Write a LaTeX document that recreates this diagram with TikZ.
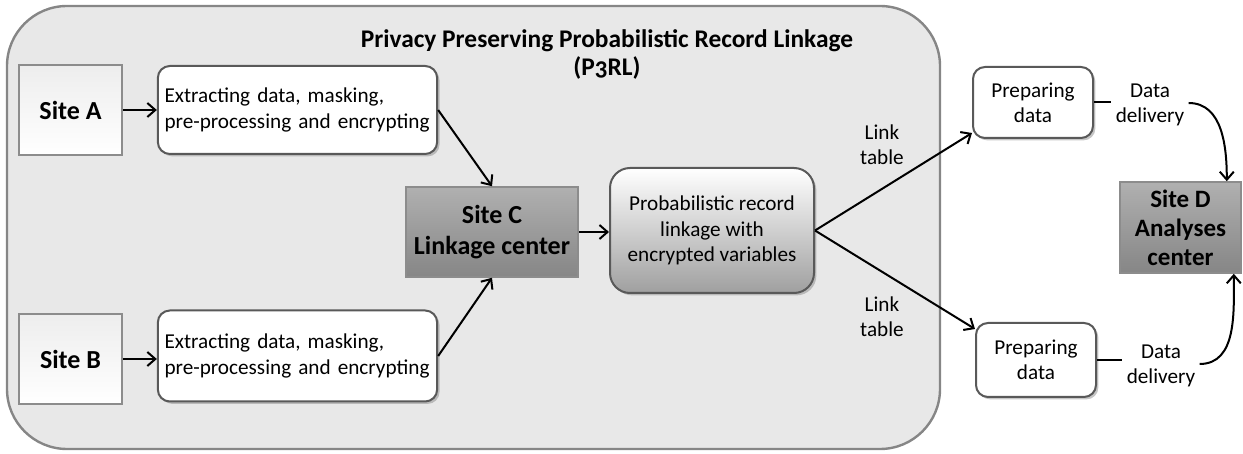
\documentclass[tikz,border=0pt]{standalone}
\usepackage{fontspec}
\setmainfont{Carlito}
\usetikzlibrary{calc,shadows,arrows.meta}

\begin{document}
\begin{tikzpicture}[x=0.5pt,y=-0.5pt,
    site/.style={draw=gray!90,line width=1.3pt,top color=gray!14,bottom color=white,
        minimum width=51.5pt,minimum height=45pt,font=\fontsize{13}{15.5}\selectfont\bfseries},
    hub/.style={draw=gray!90,line width=0.8pt,top color=gray!62,bottom color=gray!95,
        align=center,font=\fontsize{13}{15.5}\selectfont\bfseries},
    task/.style={draw=black!65,line width=1pt,rounded corners=6pt,fill=white,
        drop shadow={opacity=0.45,shadow xshift=1.2pt,shadow yshift=-1.2pt},
        font=\fontsize{10.6}{12.6}\selectfont},
    lbl/.style={align=center,inner sep=2pt,font=\fontsize{10.6}{12.6}\selectfont},
    arr/.style={-{Straight Barb[length=4pt,width=7pt]},line width=1pt}]

    \useasboundingbox (0,0) rectangle (1243,454);

    %%% P3RL frame %%%

    \draw[draw=gray!95,line width=1.2pt,fill=gray!18,rounded corners=30pt]
        (7,6) rectangle (940,449);
    \node[align=center,font=\fontsize{12.7}{14}\selectfont\bfseries] (t) at (607,54)
        {Privacy Preserving Probabilistic Record Linkage\\
         (P{\addfontfeatures{Numbers=OldStyle}3}RL)};

    %%% Sites A and B %%%

    \node[site] (sa) at (70.5,110) {Site A};
    \node[task,text width=133pt,align=left,minimum width=139.5pt,minimum height=44pt]
        (ea) at (297.5,110)
        {Extracting data, masking,\\pre-processing and encrypting};

    \node[site] (sb) at (70.5,359) {Site B};
    \node[task,text width=133pt,align=left,minimum width=139.5pt,minimum height=45.5pt]
        (eb) at (297.5,356)
        {Extracting data, masking,\\pre-processing and encrypting};

    %%% Linkage %%%

    \node[hub,minimum width=86pt,minimum height=45pt] (sc) at (492,232)
        {Site C\\Linkage center};
    \node[task,rounded corners=10pt,top color=white,bottom color=gray!75,align=center,
        minimum width=102pt,minimum height=62.5pt] (pl) at (712,230.5)
        {Probabilistic record\\linkage with\\encrypted variables};

    \node[lbl] (l1) at (882,145) {Link\\table};
    \node[lbl] (l2) at (882,317) {Link\\table};

    %%% Delivery %%%

    \node[task,align=center,minimum width=60pt,minimum height=35.5pt] (p1) at (1033,102.5)
        {Preparing\\data};
    \node[task,align=center,minimum width=60pt,minimum height=37pt] (p2) at (1036,360)
        {Preparing\\data};

    \node[lbl] (d1) at (1150,105) {Data\\delivery};
    \node[lbl] (d2) at (1161,366) {Data\\delivery};

    \node[hub,minimum width=60.5pt,minimum height=45.5pt,
        font=\fontsize{12.5}{14.5}\selectfont\bfseries] (sd) at (1180.5,227.5)
        {Site D\\Analyses\\center};

    %%% Arrows %%%

    \draw[arr] (sa) -- (ea);
    \draw[arr] (sb.east) -- (sb.east -| eb.west);
    \draw[arr] (ea.east) -- (sc.north);
    \draw[arr] (eb.east) -- (sc.south);
    \draw[arr] (sc.east) -- (sc.east -| pl.west);
    \draw[arr] (pl.east) -- ([yshift=3pt]p1.south west);
    \draw[arr] (pl.east) -- ([yshift=-3.5pt]p2.north west);
    \draw[line width=1pt] (p1.east) -- (p1.east -| d1.west);
    \draw[line width=1pt] (p2.east) -- (p2.east -| d2.west);
    \draw[arr] ([yshift=1pt]d1.east) to[out=0,in=90] ([xshift=-7.5pt]sd.north east);
    \draw[arr] ([yshift=1pt]d2.east) to[out=0,in=-90] ([xshift=-4pt]sd.south east);

\end{tikzpicture}
\end{document}
